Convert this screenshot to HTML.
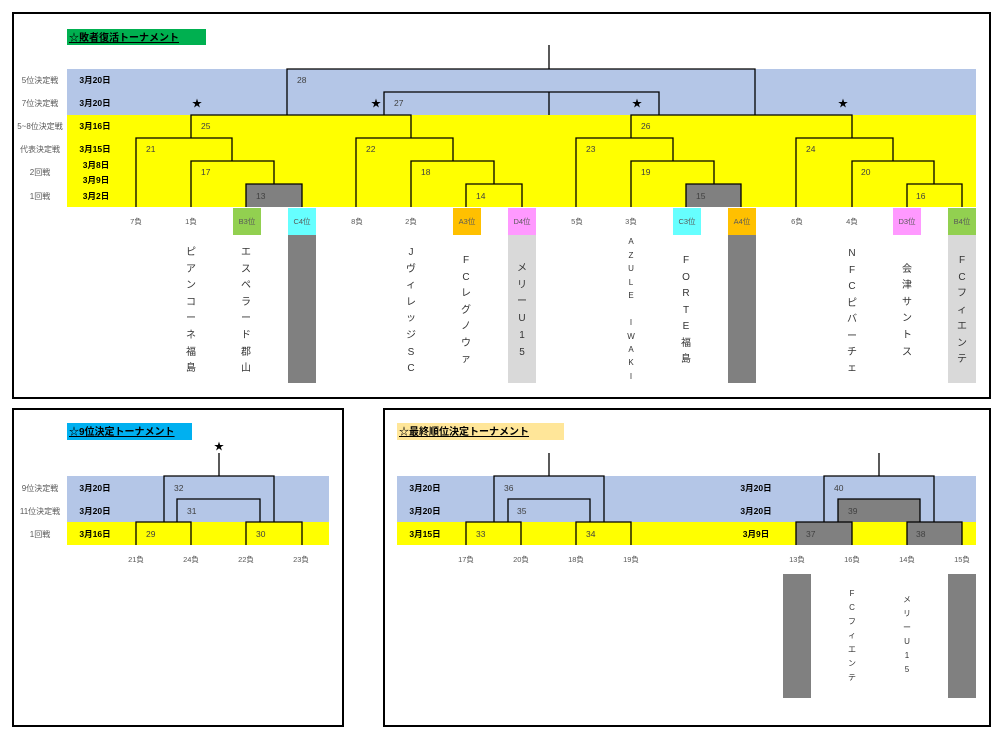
<!DOCTYPE html>
<html><head><meta charset="utf-8"><style>
html,body{margin:0;padding:0;background:#fff;}
svg{display:block;}
text{font-family:"Liberation Sans","Noto Sans CJK JP",sans-serif;}
.rl{font-size:8px;fill:#595959;text-anchor:middle;}
.dt{font-size:8.5px;font-weight:bold;fill:#000;text-anchor:middle;}
.n{font-size:8.5px;fill:#404040;}
.lb{font-size:7.5px;fill:#595959;text-anchor:middle;}
.vn{font-size:10px;fill:#333;text-anchor:middle;}
.vs{font-size:8px;fill:#333;text-anchor:middle;}
.t{font-size:10px;font-weight:bold;fill:#000;text-decoration:underline;}
.ln{fill:none;stroke:#000;stroke-width:1.3;}
.st{font-size:10px;fill:#000;text-anchor:middle;}
</style></head><body>
<svg width="1000" height="738" viewBox="0 0 1000 738" xmlns="http://www.w3.org/2000/svg">
<!-- panel borders -->
<rect x="13" y="13" width="977" height="385" fill="#fff" stroke="#000" stroke-width="2"/>
<rect x="13" y="409" width="330" height="317" fill="#fff" stroke="#000" stroke-width="2"/>
<rect x="384" y="409" width="606" height="317" fill="#fff" stroke="#000" stroke-width="2"/>

<!-- ============ Panel 1 ============ -->
<rect x="67" y="29" width="139" height="16" fill="#00b050"/>
<text class="t" x="69" y="41">☆敗者復活トーナメント</text>
<rect x="67" y="69" width="909" height="46" fill="#b4c6e7"/>
<rect x="67" y="115" width="909" height="92" fill="#ffff00"/>
<rect x="246" y="184" width="56" height="23" fill="#808080"/>
<rect x="686" y="184" width="55" height="23" fill="#808080"/>

<text class="rl" x="40" y="83">5位決定戦</text>
<text class="rl" x="40" y="106">7位決定戦</text>
<text class="rl" x="40" y="129">5~8位決定戦</text>
<text class="rl" x="40" y="152">代表決定戦</text>
<text class="rl" x="40" y="175">2回戦</text>
<text class="rl" x="40" y="199">1回戦</text>
<text class="dt" x="95" y="83">3月20日</text>
<text class="dt" x="95" y="106">3月20日</text>
<text class="dt" x="95" y="129">3月16日</text>
<text class="dt" x="95" y="152">3月15日</text>
<text class="dt" x="96" y="168">3月8日</text>
<text class="dt" x="96" y="183">3月9日</text>
<text class="dt" x="96" y="199">3月2日</text>

<path class="ln" d="M549 45V69 M287 115V69H755V115 M549 92V115 M384 115V92H659V115
M191 138V115H411V138 M136 207V138H232V161 M191 207V161H274V184 M246 207V184H302V207
M356 207V138H453V161 M411 207V161H494V184 M466 207V184H522V207
M631 138V115H852V138 M576 207V138H673V161 M631 207V161H714V184 M686 207V184H741V207
M796 207V138H893V161 M852 207V161H934V184 M907 207V184H962V207"/>

<text class="st" x="197" y="107">★</text>
<text class="st" x="376" y="107">★</text>
<text class="st" x="637" y="107">★</text>
<text class="st" x="843" y="107">★</text>

<text class="n" x="297" y="83">28</text>
<text class="n" x="394" y="106">27</text>
<text class="n" x="201" y="129">25</text>
<text class="n" x="641" y="129">26</text>
<text class="n" x="146" y="152">21</text>
<text class="n" x="366" y="152">22</text>
<text class="n" x="586" y="152">23</text>
<text class="n" x="806" y="152">24</text>
<text class="n" x="201" y="175">17</text>
<text class="n" x="421" y="175">18</text>
<text class="n" x="641" y="175">19</text>
<text class="n" x="861" y="175">20</text>
<text class="n" x="256" y="199">13</text>
<text class="n" x="476" y="199">14</text>
<text class="n" x="696" y="199">15</text>
<text class="n" x="916" y="199">16</text>

<!-- bottom label boxes -->
<rect x="233" y="208" width="28" height="27" fill="#92d050"/>
<rect x="288" y="208" width="28" height="27" fill="#66ffff"/>
<rect x="453" y="208" width="28" height="27" fill="#ffc000"/>
<rect x="508" y="208" width="28" height="27" fill="#ff99ff"/>
<rect x="673" y="208" width="28" height="27" fill="#66ffff"/>
<rect x="728" y="208" width="28" height="27" fill="#ffc000"/>
<rect x="893" y="208" width="28" height="27" fill="#ff99ff"/>
<rect x="948" y="208" width="28" height="27" fill="#92d050"/>
<rect x="288" y="235" width="28" height="148" fill="#808080"/>
<rect x="508" y="235" width="28" height="148" fill="#d9d9d9"/>
<rect x="728" y="235" width="28" height="148" fill="#808080"/>
<rect x="948" y="235" width="28" height="148" fill="#d9d9d9"/>

<text class="lb" x="136" y="224">7負</text>
<text class="lb" x="191" y="224">1負</text>
<text class="lb" x="247" y="224">B3位</text>
<text class="lb" x="302" y="224">C4位</text>
<text class="lb" x="357" y="224">8負</text>
<text class="lb" x="411" y="224">2負</text>
<text class="lb" x="467" y="224">A3位</text>
<text class="lb" x="522" y="224">D4位</text>
<text class="lb" x="577" y="224">5負</text>
<text class="lb" x="631" y="224">3負</text>
<text class="lb" x="687" y="224">C3位</text>
<text class="lb" x="742" y="224">A4位</text>
<text class="lb" x="797" y="224">6負</text>
<text class="lb" x="852" y="224">4負</text>
<text class="lb" x="907" y="224">D3位</text>
<text class="lb" x="962" y="224">B4位</text>

<!-- vertical names -->
<g class="vn">
<text x="191" y="255">ピ</text><text x="191" y="272">ア</text><text x="191" y="288">ン</text><text x="191" y="305">コ</text><text x="191" y="321">ー</text><text x="191" y="338">ネ</text><text x="191" y="355">福</text><text x="191" y="371">島</text>
<text x="246" y="255">エ</text><text x="246" y="272">ス</text><text x="246" y="288">ペ</text><text x="246" y="305">ラ</text><text x="246" y="321">ー</text><text x="246" y="338">ド</text><text x="246" y="355">郡</text><text x="246" y="371">山</text>
<text x="411" y="255">J</text><text x="411" y="272">ヴ</text><text x="411" y="288">ィ</text><text x="411" y="305">レ</text><text x="411" y="321">ッ</text><text x="411" y="338">ジ</text><text x="411" y="355">S</text><text x="411" y="371">C</text>
<text x="466" y="263">F</text><text x="466" y="280">C</text><text x="466" y="296">レ</text><text x="466" y="313">グ</text><text x="466" y="329">ノ</text><text x="466" y="346">ウ</text><text x="466" y="362">ァ</text>
<text x="522" y="271">メ</text><text x="522" y="288">リ</text><text x="522" y="304">ー</text><text x="522" y="321">U</text><text x="522" y="338">1</text><text x="522" y="355">5</text>
<text x="686" y="263">F</text><text x="686" y="280">O</text><text x="686" y="296">R</text><text x="686" y="313">T</text><text x="686" y="329">E</text><text x="686" y="346">福</text><text x="686" y="362">島</text>
<text x="852" y="256">N</text><text x="852" y="273">F</text><text x="852" y="289">C</text><text x="852" y="306">ピ</text><text x="852" y="322">バ</text><text x="852" y="339">ー</text><text x="852" y="355">チ</text><text x="852" y="371">ェ</text>
<text x="907" y="272">会</text><text x="907" y="288">津</text><text x="907" y="305">サ</text><text x="907" y="321">ン</text><text x="907" y="338">ト</text><text x="907" y="355">ス</text>
<text x="962" y="263">F</text><text x="962" y="280">C</text><text x="962" y="296">フ</text><text x="962" y="313">ィ</text><text x="962" y="329">エ</text><text x="962" y="346">ン</text><text x="962" y="362">テ</text>
</g>
<g class="vs">
<text x="631" y="244">A</text><text x="631" y="258">Z</text><text x="631" y="271">U</text><text x="631" y="285">L</text><text x="631" y="298">E</text>
<text x="631" y="325">I</text><text x="631" y="339">W</text><text x="631" y="352">A</text><text x="631" y="365">K</text><text x="631" y="379">I</text>
</g>

<!-- ============ Panel 2 ============ -->
<rect x="67" y="423" width="125" height="17" fill="#00b0f0"/>
<text class="t" x="69" y="435">☆9位決定トーナメント</text>
<rect x="67" y="476" width="262" height="46" fill="#b4c6e7"/>
<rect x="67" y="522" width="262" height="23" fill="#ffff00"/>
<text class="rl" x="40" y="491">9位決定戦</text>
<text class="rl" x="40" y="514">11位決定戦</text>
<text class="rl" x="40" y="537">1回戦</text>
<text class="dt" x="95" y="491">3月20日</text>
<text class="dt" x="95" y="514">3月20日</text>
<text class="dt" x="95" y="537">3月16日</text>
<text class="st" x="219" y="450">★</text>
<path class="ln" d="M219 453V476 M164 522V476H274V522 M177 522V499H260V522 M136 545V522H191V545 M246 545V522H302V545"/>
<text class="n" x="174" y="491">32</text>
<text class="n" x="187" y="514">31</text>
<text class="n" x="146" y="537">29</text>
<text class="n" x="256" y="537">30</text>
<text class="lb" x="136" y="562">21負</text>
<text class="lb" x="191" y="562">24負</text>
<text class="lb" x="246" y="562">22負</text>
<text class="lb" x="301" y="562">23負</text>

<!-- ============ Panel 3 ============ -->
<rect x="397" y="423" width="167" height="17" fill="#ffe699"/>
<text class="t" x="399" y="435">☆最終順位決定トーナメント</text>
<rect x="397" y="476" width="579" height="46" fill="#b4c6e7"/>
<rect x="397" y="522" width="579" height="23" fill="#ffff00"/>
<rect x="838" y="499" width="82" height="23" fill="#808080"/>
<rect x="796" y="522" width="56" height="23" fill="#808080"/>
<rect x="907" y="522" width="55" height="23" fill="#808080"/>
<text class="dt" x="425" y="491">3月20日</text>
<text class="dt" x="425" y="514">3月20日</text>
<text class="dt" x="425" y="537">3月15日</text>
<text class="dt" x="756" y="491">3月20日</text>
<text class="dt" x="756" y="514">3月20日</text>
<text class="dt" x="756" y="537">3月9日</text>
<path class="ln" d="M549 453V476 M494 522V476H604V522 M508 522V499H590V522 M466 545V522H521V545 M576 545V522H631V545
M879 453V476 M824 522V476H934V522 M838 522V499H920V522 M796 545V522H852V545 M907 545V522H962V545"/>
<text class="n" x="504" y="491">36</text>
<text class="n" x="517" y="514">35</text>
<text class="n" x="476" y="537">33</text>
<text class="n" x="586" y="537">34</text>
<text class="n" x="834" y="491">40</text>
<text class="n" x="848" y="514">39</text>
<text class="n" x="806" y="537">37</text>
<text class="n" x="916" y="537">38</text>
<text class="lb" x="466" y="562">17負</text>
<text class="lb" x="521" y="562">20負</text>
<text class="lb" x="576" y="562">18負</text>
<text class="lb" x="631" y="562">19負</text>
<text class="lb" x="797" y="562">13負</text>
<text class="lb" x="852" y="562">16負</text>
<text class="lb" x="907" y="562">14負</text>
<text class="lb" x="962" y="562">15負</text>
<rect x="783" y="574" width="28" height="124" fill="#808080"/>
<rect x="948" y="574" width="28" height="124" fill="#808080"/>
<g class="vs">
<text x="852" y="596">F</text><text x="852" y="610">C</text><text x="852" y="624">フ</text><text x="852" y="638">ィ</text><text x="852" y="652">エ</text><text x="852" y="666">ン</text><text x="852" y="680">テ</text>
<text x="907" y="602">メ</text><text x="907" y="616">リ</text><text x="907" y="630">ー</text><text x="907" y="644">U</text><text x="907" y="658">1</text><text x="907" y="672">5</text>
</g>
</svg>
</body></html>
